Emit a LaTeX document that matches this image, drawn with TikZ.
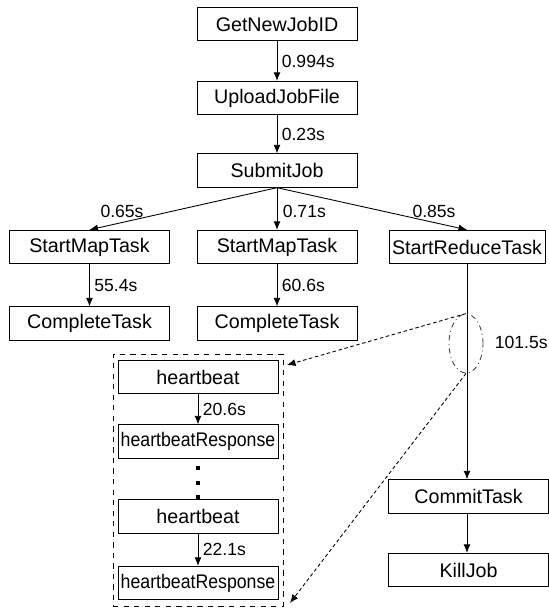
\documentclass[tikz,border=0pt]{standalone}
\usepackage{fontspec}
\setmainfont{Liberation Sans}
\usepackage{graphicx}
\usetikzlibrary{arrows.meta, shapes.geometric}

\begin{document}
\begin{tikzpicture}[x=0.02cm, y=-0.02cm, line width=.5pt,
  box/.style={draw, inner sep=.5pt, minimum width=3.2cm, minimum height=.67cm, font=\fontsize{11.2}{13}\selectfont},
  lbl/.style={inner sep=2.5pt, font=\fontsize{10}{12}\selectfont},
  arr/.style={-{Latex[length=1.7mm, width=1.4mm]}},
  dasharr/.style={arr, dash pattern=on 2pt off 1.5pt}]
  \useasboundingbox (0, 0) rectangle (548.6, 608);

  \node [box] (jobid) at (277, 24) {GetNewJobID};
  \node [box] (upload) at (277, 98) {UploadJobFile};
  \node [box] (submit) at (277, 170.5) {SubmitJob};
  \node [box] (mapA) at (89.5, 247) {StartMapTask};
  \node [box] (mapB) at (277, 247) {StartMapTask};
  \node [box, minimum width=3.12cm] (reduce) at (467, 247) {StartReduceTask};
  \node [box] (doneA) at (89.5, 323.5) {CompleteTask};
  \node [box] (doneB) at (277, 323.5) {CompleteTask};
  \node [box] (commit) at (468.5, 496.5) {CommitTask};
  \node [box] (kill) at (468.5, 570) {KillJob};

  \draw [arr] (jobid) to node [lbl, right] (t1) {0.994s} (upload);
  \draw [arr] (upload) to node [lbl, right] (t2) {0.23s} (submit);
  \draw [arr] (submit.south) to (mapA.north);
  \draw [arr] (submit.south) to (mapB.north);
  \draw [arr] (submit.south) to (reduce.north);
  \node [lbl] (t3) at (122, 211) {0.65s};
  \node [lbl, anchor=west] (t4) at (278, 211) {0.71s};
  \node [lbl] (t5) at (434, 211) {0.85s};
  \draw [arr] (mapA) to node [lbl, right] (t6) {55.4s} (doneA);
  \draw [arr] (mapB) to node [lbl, right] (t7) {60.6s} (doneB);
  \draw [arr] (reduce.south) to (reduce.south |- commit.north);
  \draw [arr] (commit.south -| reduce.south) to (reduce.south |- kill.north);

  \node [ellipse, draw, dash dot, black!75, inner sep=0, minimum width=.68cm, minimum height=1.18cm] (zoom) at (466, 343.5) {};
  \node [lbl, anchor=west] (t8) at (490, 342) {101.5s};

  \node [draw, dashed, minimum width=3.4cm, minimum height=5.04cm] (frame) at (198, 480) {};
  \node [box] (hbA) at (198, 377) {heartbeat};
  \node [box] (hbrA) at (198, 441.5) {\scalebox{.9}[1]{heartbeatResponse}};
  \node [box] (hbB) at (198, 516.5) {heartbeat};
  \node [box] (hbrB) at (198, 583) {\scalebox{.9}[1]{heartbeatResponse}};
  \draw [arr] (hbA) to node [lbl, right] (t9) {20.6s} (hbrA);
  \draw [arr] (hbB) to node [lbl, right] (t10) {22.1s} (hbrB);
  \foreach \y in {468, 483, 497}
  {
    \fill (196.3, \y - 1.7) rectangle ++(3.4, 3.4);
  }

  \coordinate (inA) at (287, 365);
  \coordinate (inB) at (290, 603);
  \draw [dasharr] (zoom.north) to (inA);
  \draw [dasharr] (zoom.south) to (inB);

\end{tikzpicture}
\end{document}
